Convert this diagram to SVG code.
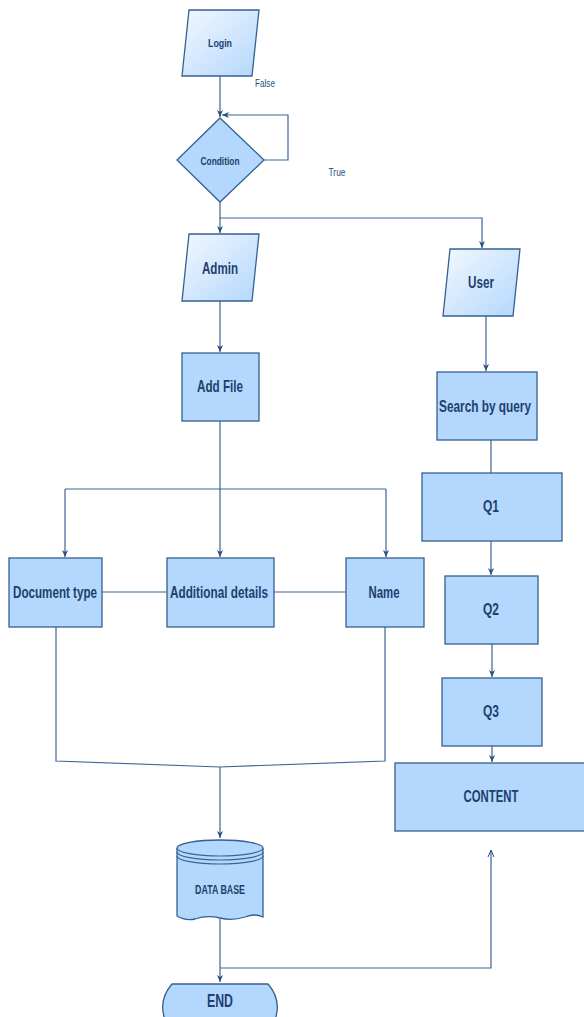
<svg xmlns="http://www.w3.org/2000/svg" width="584" height="1017" viewBox="0 0 584 1017">
<style>
.box{fill:#b3d7fd;stroke:#35608f;stroke-width:1.3}
.para{fill:url(#pg);stroke:#35608f;stroke-width:1.3}
.t{font-family:"Liberation Sans",Arial,sans-serif;font-weight:bold;fill:#1e3f6d;text-anchor:middle;dominant-baseline:central}
.lbl{font-family:"Liberation Sans",Arial,sans-serif;fill:#2a4f80;font-size:11px;text-anchor:middle;dominant-baseline:central}
.c{fill:none;stroke:#3c6594;stroke-width:1.2}
</style>
<defs>
<linearGradient id="pg" x1="0" y1="0" x2="1" y2="1">
<stop offset="0" stop-color="#f2f8ff"/>
<stop offset="1" stop-color="#b3d7fd"/>
</linearGradient>
<marker id="ar" markerWidth="8" markerHeight="8" refX="7" refY="4" orient="auto" markerUnits="userSpaceOnUse">
<path d="M0,1 L7,4 L0,7 L2,4 Z" fill="#2a4f80"/>
</marker>
<marker id="ao" markerWidth="8" markerHeight="8" refX="7" refY="4" orient="auto" markerUnits="userSpaceOnUse">
<path d="M0,1 L7,4 L0,7" fill="none" stroke="#2a4f80" stroke-width="1"/>
</marker>
</defs>
<g id="connectors">
<path class="c" d="M220,76 V117" marker-end="url(#ar)"/>
<path class="c" d="M264,160 H288 V115 H222" marker-end="url(#ar)"/>
<path class="c" d="M220,202 V218 H482 V248" marker-end="url(#ar)"/>
<path class="c" d="M220,218 V233" marker-end="url(#ar)"/>
<path class="c" d="M220,301 V352" marker-end="url(#ar)"/>
<path class="c" d="M486,316 V371" marker-end="url(#ar)"/>
<path class="c" d="M491,440 V473"/>
<path class="c" d="M220,421 V489"/>
<path class="c" d="M65,489 H386"/>
<path class="c" d="M65,489 V557" marker-end="url(#ar)"/>
<path class="c" d="M220,489 V557" marker-end="url(#ar)"/>
<path class="c" d="M386,489 V557" marker-end="url(#ar)"/>
<path class="c" d="M102,592 H167"/>
<path class="c" d="M274,592 H346"/>
<path class="c" d="M491,541 V575" marker-end="url(#ar)"/>
<path class="c" d="M492,644 V677" marker-end="url(#ar)"/>
<path class="c" d="M492,746 V762" marker-end="url(#ar)"/>
<path class="c" d="M56,627 V761 L220,767 L385,761 V627"/>
<path class="c" d="M220,767 V838" marker-end="url(#ar)"/>
<path class="c" d="M220,919 V982" marker-end="url(#ar)"/>
<path class="c" d="M220,968 H491 V850" marker-end="url(#ao)"/>
</g>
<g id="login">
<polygon class="para" points="189,10 259,10 252,76 182,76"/>
<text class="t" x="220" y="43" font-size="11" textLength="24" lengthAdjust="spacingAndGlyphs">Login</text>
</g>
<text class="lbl" x="265" y="83" textLength="20" lengthAdjust="spacingAndGlyphs">False</text>
<text class="lbl" x="337" y="172" textLength="17" lengthAdjust="spacingAndGlyphs">True</text>
<g id="condition">
<polygon class="box" points="220,118 264,160 220,202 177,160"/>
<text class="t" x="220" y="161" font-size="11" textLength="39" lengthAdjust="spacingAndGlyphs">Condition</text>
</g>
<g id="admin">
<polygon class="para" points="189,234 259,234 252,301 182,301"/>
<text class="t" x="220" y="268" font-size="17" textLength="36" lengthAdjust="spacingAndGlyphs">Admin</text>
</g>
<g id="user">
<polygon class="para" points="450,249 520,249 513,316 443,316"/>
<text class="t" x="481" y="282" font-size="17" textLength="26" lengthAdjust="spacingAndGlyphs">User</text>
</g>
<g id="addfile">
<rect class="box" x="182" y="353" width="77" height="68"/>
<text class="t" x="220" y="386" font-size="17" textLength="46" lengthAdjust="spacingAndGlyphs">Add File</text>
</g>
<g id="search">
<rect class="box" x="437" y="372" width="100" height="68"/>
<text class="t" x="485" y="406" font-size="17" textLength="92" lengthAdjust="spacingAndGlyphs">Search by query</text>
</g>
<g id="q1">
<rect class="box" x="422" y="473" width="140" height="68"/>
<text class="t" x="491" y="506" font-size="17" textLength="16" lengthAdjust="spacingAndGlyphs">Q1</text>
</g>
<g id="doctype">
<rect class="box" x="9" y="558" width="93" height="69"/>
<text class="t" x="55" y="592" font-size="17" textLength="84" lengthAdjust="spacingAndGlyphs">Document type</text>
</g>
<g id="additional">
<rect class="box" x="167" y="558" width="107" height="69"/>
<text class="t" x="219" y="592" font-size="17" textLength="98" lengthAdjust="spacingAndGlyphs">Additional details</text>
</g>
<g id="name">
<rect class="box" x="346" y="558" width="78" height="69"/>
<text class="t" x="384" y="592" font-size="17" textLength="31" lengthAdjust="spacingAndGlyphs">Name</text>
</g>
<g id="q2">
<rect class="box" x="445" y="576" width="93" height="68"/>
<text class="t" x="491" y="609" font-size="17" textLength="16" lengthAdjust="spacingAndGlyphs">Q2</text>
</g>
<g id="q3">
<rect class="box" x="442" y="678" width="100" height="68"/>
<text class="t" x="491" y="711" font-size="17" textLength="16" lengthAdjust="spacingAndGlyphs">Q3</text>
</g>
<g id="content">
<rect class="box" x="395" y="763" width="195" height="68"/>
<text class="t" x="491" y="796" font-size="17" textLength="55" lengthAdjust="spacingAndGlyphs">CONTENT</text>
</g>
<g id="database">
<path class="box" d="M177,848 A43,8 0 0 1 263,848 V917 Q255,913 245,917 Q232,921 220,918 Q207,915 195,919 Q185,921 177,916 Z"/>
<path class="c" d="M177,848 A43,8 0 0 0 263,848"/>
<path class="c" d="M177,852 A43,8 0 0 0 263,852"/>
<path class="c" d="M177,856 A43,8 0 0 0 263,856"/>
<text class="t" x="220" y="890" font-size="12" textLength="50" lengthAdjust="spacingAndGlyphs">DATA BASE</text>
</g>
<g id="end">
<path class="box" d="M172,984 H268 Q282,1000 275,1020 H165 Q158,1000 172,984 Z"/>
<text class="t" x="220" y="1001" font-size="18" textLength="26" lengthAdjust="spacingAndGlyphs">END</text>
</g>
</svg>
